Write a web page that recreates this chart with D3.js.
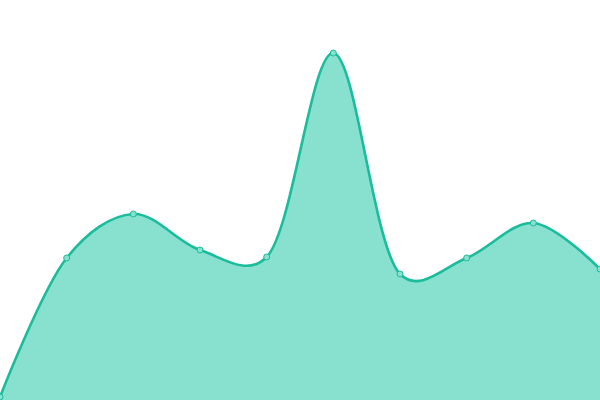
<!DOCTYPE html>
<html>
<head>
<meta charset="utf-8">
<script src="https://cdn.jsdelivr.net/npm/d3@7"></script>
<style>
  body { margin: 0; background: #fff; }
  svg { display: block; }
</style>
</head>
<body>
<svg id="chart" width="600" height="400"></svg>
<script>
var categories = [0, 1, 2, 3, 4, 5, 6, 7, 8, 9];
var values = [3, 142, 186, 150, 143, 347, 126, 142, 177, 131];

var width = 600, height = 400;
var svg = d3.select("#chart");

var x = d3.scaleLinear().domain([0, categories.length - 1]).range([0, width]);
var y = d3.scaleLinear().domain([0, 400]).range([height, 0]);

var data = categories.map(function (c, i) { return { c: c, v: values[i] }; });
var curve = d3.curveCatmullRom.alpha(0.25);

svg.append("path")
    .datum(data)
    .attr("fill", "#88e0cf")
    .attr("d", d3.area()
        .x(function (d) { return x(d.c); })
        .y0(height)
        .y1(function (d) { return y(d.v); })
        .curve(curve));

svg.append("path")
    .datum(data)
    .attr("fill", "none")
    .attr("stroke", "#1abc9c")
    .attr("stroke-width", 2.6)
    .attr("d", d3.line()
        .x(function (d) { return x(d.c); })
        .y(function (d) { return y(d.v); })
        .curve(curve));

svg.selectAll("circle")
    .data(data)
    .enter().append("circle")
    .attr("cx", function (d) { return x(d.c); })
    .attr("cy", function (d) { return y(d.v); })
    .attr("r", 3)
    .attr("fill", "#88e0cf")
    .attr("stroke", "#1abc9c")
    .attr("stroke-width", 1);
</script>
</body>
</html>
